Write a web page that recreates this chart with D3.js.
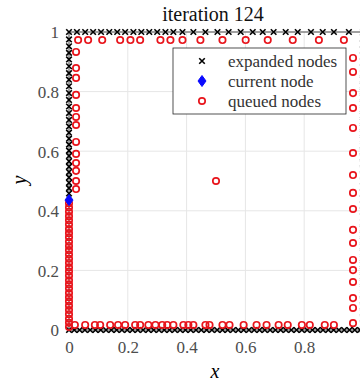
<!DOCTYPE html>
<html><head><meta charset="utf-8">
<script src="https://cdn.jsdelivr.net/npm/d3@7"></script>
<style>body{margin:0;background:#fff}svg{display:block}</style>
</head><body>
<svg id="c" width="360" height="383"></svg>
<script>
const titleText = "iteration 124";
const xTicks = [0, 0.2, 0.4, 0.6, 0.8, 1];
const xTickLabels = [0, 0.2, 0.4, 0.6, 0.8];
const yTicks = [0, 0.2, 0.4, 0.6, 0.8, 1];
const legendLabels = ["expanded nodes", "current node", "queued nodes"];

// expanded nodes
const expTopX = [0,0.027,0.055,0.082,0.109,0.137,0.164,0.191,0.219,0.246,0.273,0.300,0.328,0.355,0.386,0.423,0.464,0.505,0.543,0.584,0.625,0.659,0.696,0.737,0.778,0.823,0.863,0.901,0.952];
const expLeftY = [0.975,0.952,0.93,0.908,0.885,0.862,0.84,0.818,0.795,0.772,0.75,0.728,0.705,0.683,0.662,0.642,0.622,0.602,0.584,0.566,0.548,0.53,0.512,0.494,0.476,0.458];
const expBottomX = [0,0.018,0.036,0.054,0.072,0.09,0.108,0.126,0.144,0.162,0.18,0.198,0.216,0.234,0.252,0.27,0.288,0.306,0.324,0.342,0.36,0.378,0.396,0.414,0.432,0.45,0.468,0.486,0.504,0.522,0.54,0.558,0.576,0.594,0.612,0.63,0.648,0.666,0.684,0.702,0.72,0.738,0.756,0.774,0.792,0.81,0.828,0.846,0.864,0.882,0.9,0.918,0.936,0.954,0.972,0.99];
const expRightY = [0,0.02,0.04,0.06,0.08,0.1,0.12,0.14,0.16,0.18,0.2,0.22,0.24,0.26,0.28,0.3,0.32,0.34,0.36,0.38,0.4,0.42,0.44,0.46,0.48,0.5,0.52,0.54,0.56,0.58,0.6,0.62,0.64,0.66,0.68,0.7,0.72,0.74,0.76,0.78,0.8,0.82,0.84,0.86,0.88,0.9,0.92,0.94,0.96,0.98,1];

// current node
const currentX = [0];
const currentY = [0.436];

// queued nodes
const qTopX = [0.031,0.065,0.113,0.174,0.209,0.242,0.311,0.345,0.386,0.447,0.522,0.601,0.676,0.761,0.85,0.935];
const qTopY = 0.973;
const qLeftUpperY = [0.933,0.879,0.846,0.789,0.745,0.715,0.688,0.631,0.591,0.560,0.534,0.500,0.473];
const qLeftUpperX = 0.024;
const qLeftLowerY = [0.425,0.411,0.397,0.382,0.368,0.354,0.339,0.325,0.311,0.296,0.282,0.268,0.253,0.239,0.225,0.210,0.196,0.182,0.167,0.153,0.139,0.124,0.110,0.096,0.081,0.067,0.053,0.038,0.024,0.010];
const qLeftLowerX = 0.0;
const qBottomX = [0.020,0.055,0.088,0.106,0.140,0.167,0.191,0.225,0.242,0.270,0.294,0.317,0.334,0.355,0.389,0.406,0.423,0.464,0.478,0.522,0.546,0.594,0.638,0.672,0.713,0.744,0.792,0.819,0.870,0.901];
const qBottomY = 0.017;
const qRightY = [0.913,0.866,0.795,0.745,0.678,0.594,0.520,0.460,0.406,0.336,0.292,0.235,0.201,0.161,0.107,0.074,0.023];
const qRightX = 0.966;
const qMiddle = [[0.5, 0.5]];

const expanded = [
  ...expTopX.map(x => [x, 1]),
  ...expLeftY.map(y => [0, y]),
  ...expBottomX.map(x => [x, 0]),
  ...expRightY.map(y => [1, y])
];
const queued = [
  ...qTopX.map(x => [x, qTopY]),
  ...qLeftUpperY.map(y => [qLeftUpperX, y]),
  ...qLeftLowerY.map(y => [qLeftLowerX, y]),
  ...qBottomX.map(x => [x, qBottomY]),
  ...qRightY.map(y => [qRightX, y]),
  ...qMiddle
];
const current = currentX.map((x, i) => [x, currentY[i]]);

const svg = d3.select("#c");
const font = "'Liberation Serif', serif";
const x = d3.scaleLinear().domain([0, 1]).range([69, 363]);
const y = d3.scaleLinear().domain([0, 1]).range([330, 32]);

// grid
const g = svg.append("g");
g.selectAll(".gx").data(xTicks).join("line")
  .attr("x1", d => x(d)).attr("x2", d => x(d)).attr("y1", y(0)).attr("y2", y(1))
  .attr("stroke", "#e6e6e6").attr("stroke-width", 1);
g.selectAll(".gy").data(yTicks).join("line")
  .attr("y1", d => y(d)).attr("y2", d => y(d)).attr("x1", x(0)).attr("x2", x(1))
  .attr("stroke", "#e6e6e6").attr("stroke-width", 1);

// box
svg.append("rect").attr("x", x(0)).attr("y", y(1)).attr("width", x(1) - x(0)).attr("height", y(0) - y(1))
  .attr("fill", "none").attr("stroke", "#262626").attr("stroke-width", 0.8);

// axes
const xa = svg.append("g").attr("transform", `translate(0,${y(0) + 8})`)
  .call(d3.axisBottom(x).tickValues(xTickLabels).tickSize(0).tickFormat(d3.format("~g")));
xa.select(".domain").remove();
xa.selectAll("text").attr("font-family", font).attr("font-size", 17).attr("fill", "#4d4d4d");
const ya = svg.append("g").attr("transform", `translate(${x(0) - 7},0)`)
  .call(d3.axisLeft(y).tickValues(yTicks).tickSize(0).tickFormat(d3.format("~g")));
ya.select(".domain").remove();
ya.selectAll("text").attr("font-family", font).attr("font-size", 17).attr("fill", "#4d4d4d").attr("dy", "0.35em");

svg.append("text").attr("x", 215).attr("y", 378).attr("text-anchor", "middle")
  .attr("font-family", font).attr("font-style", "italic").attr("font-size", 20).text("x");
svg.append("text").attr("transform", "translate(26,180) rotate(-90)").attr("text-anchor", "middle")
  .attr("font-family", font).attr("font-style", "italic").attr("font-size", 20).text("y");
svg.append("text").attr("x", 213).attr("y", 21).attr("text-anchor", "middle")
  .attr("font-family", font).attr("font-size", 20).attr("fill", "#111").text(titleText);

// markers
const cross = d3.symbol().type(d3.symbolX).size(22);
svg.append("g").selectAll("path").data(expanded).join("path")
  .attr("d", cross).attr("transform", d => `translate(${x(d[0])},${y(d[1])})`)
  .attr("fill", "none").attr("stroke", "#000").attr("stroke-width", 1.6);

svg.append("g").selectAll("circle").data(queued).join("circle")
  .attr("cx", d => x(d[0])).attr("cy", d => y(d[1])).attr("r", 3.2)
  .attr("fill", "none").attr("stroke", "#e8151c").attr("stroke-width", 1.7);

const diamond = "M0,-5.5L4,0L0,5.5L-4,0Z";
svg.append("g").selectAll("path").data(current).join("path")
  .attr("d", diamond).attr("transform", d => `translate(${x(d[0])},${y(d[1])})`)
  .attr("fill", "#0a0aff").attr("stroke", "#0a0aff").attr("stroke-width", 1);

// legend
const lg = svg.append("g");
lg.append("rect").attr("x", 173).attr("y", 48).attr("width", 173).attr("height", 66)
  .attr("fill", "#fff").attr("stroke", "#262626").attr("stroke-width", 0.8);
const ly = [61, 81, 101];
lg.append("path").attr("d", cross).attr("transform", `translate(202,${ly[0]})`)
  .attr("fill", "none").attr("stroke", "#000").attr("stroke-width", 1.6);
lg.append("path").attr("d", diamond).attr("transform", `translate(202,${ly[1]})`)
  .attr("fill", "#0a0aff").attr("stroke", "#0a0aff");
lg.append("circle").attr("cx", 202).attr("cy", ly[2]).attr("r", 3.2)
  .attr("fill", "none").attr("stroke", "#e8151c").attr("stroke-width", 1.7);
lg.selectAll(".lt").data(legendLabels).join("text")
  .attr("x", 228).attr("y", (d, i) => ly[i]).attr("dy", "0.35em")
  .attr("font-family", font).attr("font-size", 17).attr("fill", "#333").text(d => d);
</script>
</body></html>
